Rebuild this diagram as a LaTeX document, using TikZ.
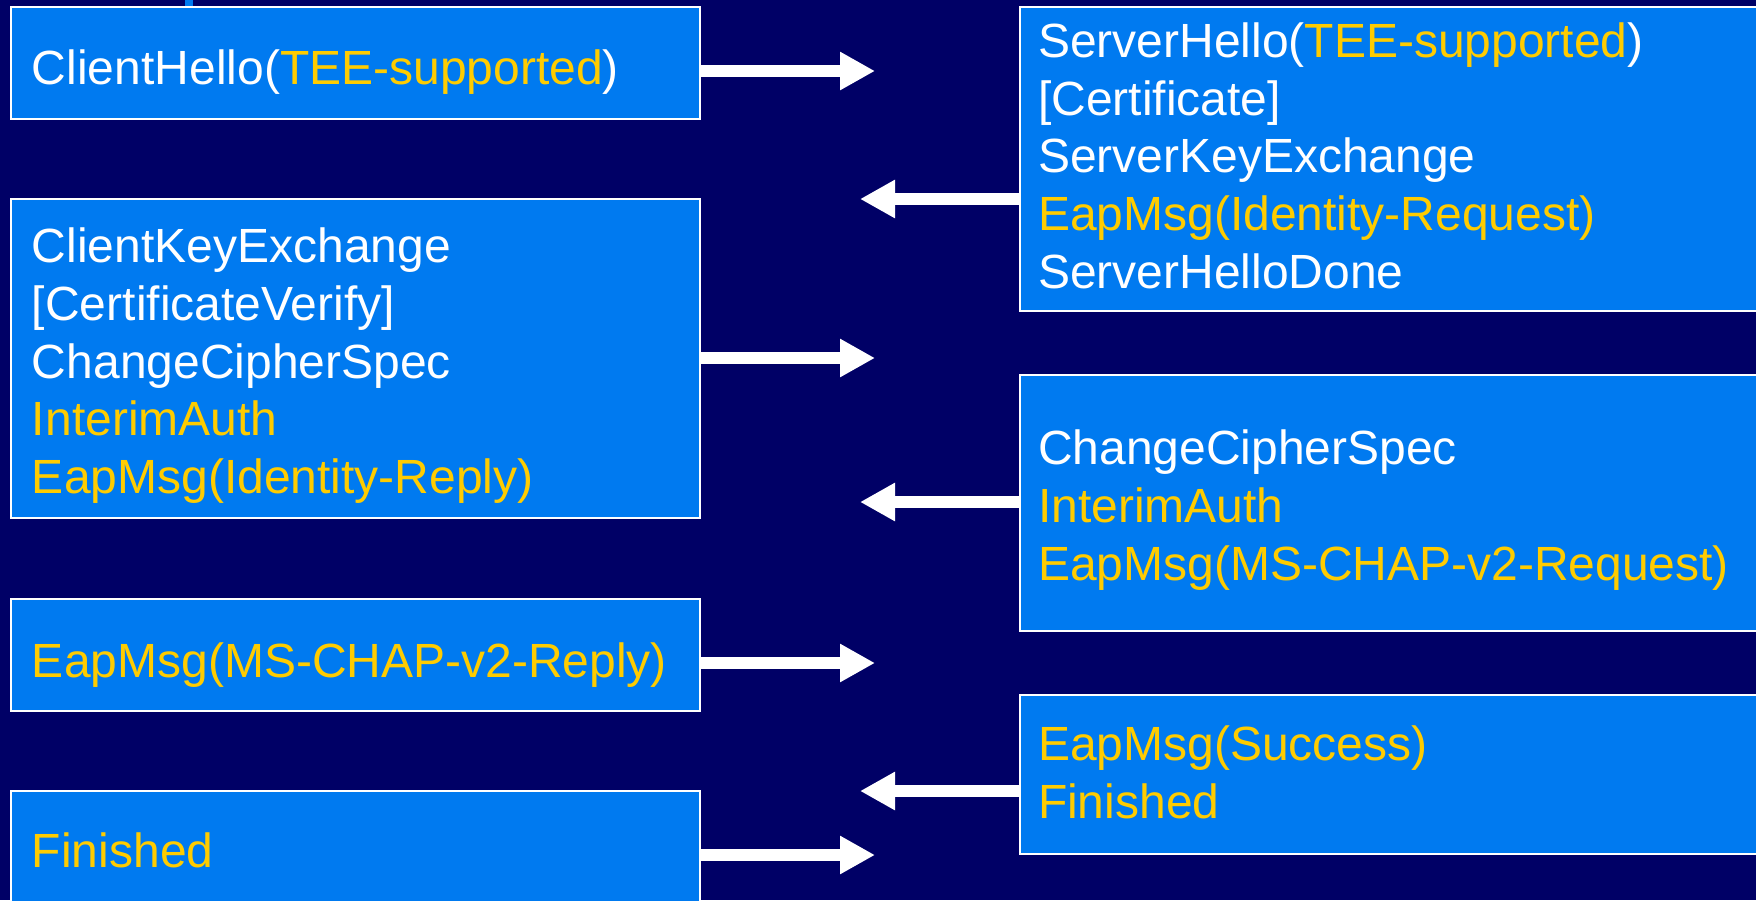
\documentclass[tikz,border=0pt]{standalone}
\usepackage{fontspec}
\setmainfont{Liberation Sans}
\usetikzlibrary{arrows.meta}
\definecolor{bgnavy}{RGB}{0,0,102}
\definecolor{boxblue}{RGB}{0,122,240}
\definecolor{msgyellow}{RGB}{255,204,0}
\newcommand\ylw[1]{\textcolor{msgyellow}{#1}}
\begin{document}
\begin{tikzpicture}[x=0.5pt,y=-0.5pt,
  msgbox/.style={draw=white,line width=1pt,fill=boxblue,rectangle,inner sep=0pt,outer sep=0pt},
  msgtext/.style={anchor=north west,inner sep=0pt,outer sep=0pt,align=left,text=white,font=\fontsize{24}{28.85}\selectfont,execute at begin node=\strut},
  flow/.style={draw=white,line width=6pt,-{Triangle[length=17.5pt,width=18pt]}}]
\useasboundingbox (0,0) rectangle (1756,900);
\clip (0,0) rectangle (1756,900);
\fill[bgnavy] (0,0) rectangle (1756,900);
\fill[boxblue] (185,-1) rectangle (193,6);

% boxes
\node[msgbox,minimum width=344.5pt,minimum height=56pt] (L1) at (355.5,63) {};
\node[msgbox,minimum width=344.5pt,minimum height=159.5pt] (L2) at (355.5,358.5) {};
\node[msgbox,minimum width=344.5pt,minimum height=56pt] (L3) at (355.5,655) {};
\node[msgbox,minimum width=344.5pt,minimum height=64.5pt] (L4) at (355.5,855.5) {};
\node[msgbox,minimum width=375pt,minimum height=152pt] (R1) at (1395,159) {};
\node[msgbox,minimum width=375pt,minimum height=128pt] (R2) at (1395,503) {};
\node[msgbox,minimum width=375pt,minimum height=79.5pt] (R3) at (1395,774.5) {};

% texts
\node[msgtext] (tL1) at (32,44.1) {ClientHello(\ylw{TEE-supported})};
\node[msgtext] (tL2) at (32,228) {ClientKeyExchange\\ {[}CertificateVerify{]}\\ ChangeCipherSpec\\ \ylw{InterimAuth}\\ \ylw{EapMsg(Identity-Reply)}};
\node[msgtext] (tL3) at (32,636.6) {\ylw{EapMsg(MS-CHAP-v2-Reply)}};
\node[msgtext] (tL4) at (32,827) {\ylw{Finished}};
\node[msgtext] (tR1) at (1038,22.6) {ServerHello(\ylw{TEE-supported})\\ {[}Certificate{]}\\ ServerKeyExchange\\ \ylw{EapMsg(Identity-Request)}\\ ServerHelloDone};
\node[msgtext] (tR2) at (1038,430) {ChangeCipherSpec\\ \ylw{InterimAuth}\\ \ylw{EapMsg(MS-CHAP-v2-Request)}};
\node[msgtext] (tR3) at (1038,725.6) {\ylw{EapMsg(Success)}\\ \ylw{Finished}};

% arrows
\coordinate (a1) at (875,71);
\coordinate (a2) at (875,358);
\coordinate (a3) at (875,663);
\coordinate (a4) at (875,855);
\coordinate (b1) at (860,199);
\coordinate (b2) at (860,502);
\coordinate (b3) at (860,791);
\draw[flow] (L1.east |- a1) -- (a1);
\draw[flow] (R1.west |- b1) -- (b1);
\draw[flow] (L2.east |- a2) -- (a2);
\draw[flow] (R2.west |- b2) -- (b2);
\draw[flow] (L3.east |- a3) -- (a3);
\draw[flow] (R3.west |- b3) -- (b3);
\draw[flow] (L4.east |- a4) -- (a4);
\end{tikzpicture}
\end{document}
